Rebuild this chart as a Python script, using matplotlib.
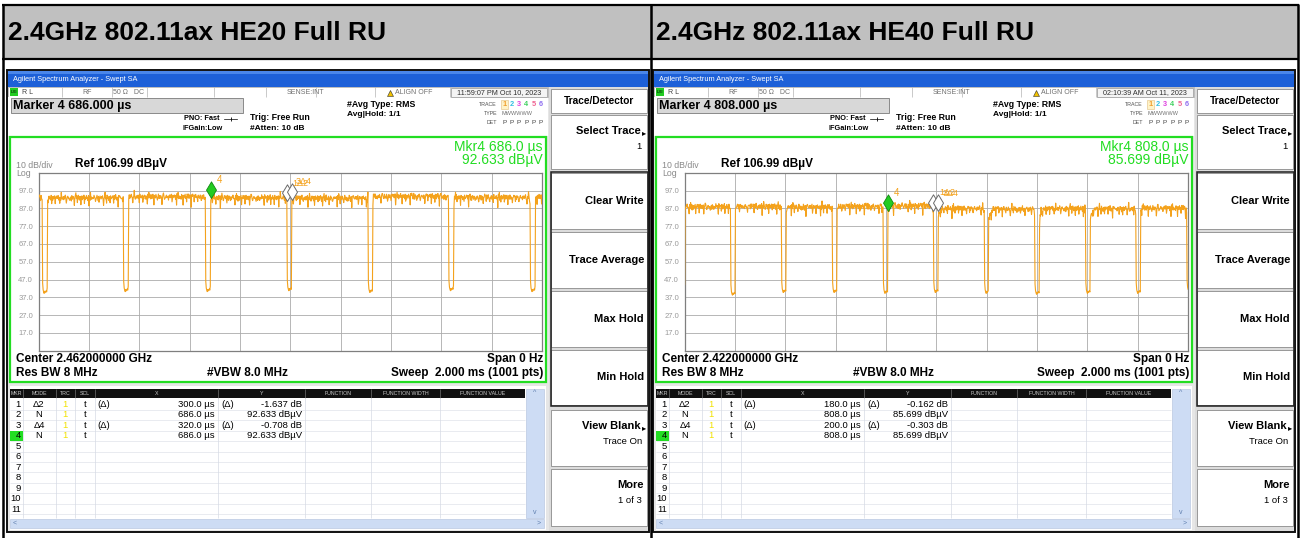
import numpy as np
import matplotlib
matplotlib.use("Agg")
import matplotlib.pyplot as plt
from matplotlib.patches import Rectangle
from matplotlib.path import Path

plt.rcParams['font.family'] = ['Liberation Sans', 'DejaVu Sans']

# ---------------- chart values ----------------
PANEL_TITLES = ["2.4GHz 802.11ax HE20 Full RU", "2.4GHz 802.11ax HE40 Full RU"]
CENTER_FREQS = ["2.462000000 GHz", "2.422000000 GHz"]
TIMESTAMPS = ["11:59:07 PM Oct 10, 2023", "02:10:39 AM Oct 11, 2023"]
REF_LEVEL = 106.99
DB_PER_DIV = 10
N_DIV = 10
SWEEP_US = 2000.0
N_POINTS = 1001
Y_TICK_LABELS = ["97.0", "87.0", "77.0", "67.0", "57.0", "47.0", "37.0", "27.0", "17.0"]

MKR4_TIME = [686.0, 808.0]          # µs
MKR4_LEVEL = [92.633, 85.699]       # dBµV
MKR1_DELTA_TIME = [300.0, 180.0]    # µs relative to marker 2
MKR1_DELTA_LEVEL = [-1.637, -0.162]
MKR3_DELTA_TIME = [320.0, 200.0]    # µs relative to marker 4
MKR3_DELTA_LEVEL = [-0.708, -0.303]

# HE20 trace: burst-off gaps (µs), floor in each gap, burst levels (dBµV)
HE20_GAP_START = [15, 337, 663, 988, 1309, 1630, 1954]
HE20_GAP_END = [35, 357, 683, 1005, 1327, 1650, 1974]
HE20_GAP_FLOOR = [40.0, 41.0, 41.0, 41.5, 40.5, 41.5, 41.0]
HE20_BURST_LEVEL = [93.5, 92.8, 93.4, 92.8, 92.6, 93.6, 93.0, 93.2]
HE20_RAMP_FLAG = [0, 0, 0, 0, 0, 0, 0, 0]

# HE40 trace
HE40_GAP_START = [-20, 183, 385, 587, 789, 990, 1191, 1392, 1593, 1794, 1996]
HE40_GAP_END = [1, 201, 403, 605, 807, 1007, 1208, 1410, 1611, 1812, 2040]
HE40_GAP_FLOOR = [42.0, 39.0, 40.5, 40.5, 40.0, 40.5, 40.0, 39.5, 40.0, 40.0, 41.5]
HE40_BURST_LEVEL = [87.0, 87.8, 88.0, 87.6, 88.0, 88.4, 86.8, 86.4, 86.8, 86.6, 87.0, 87.0]
HE40_RAMP_FLAG = [0, 0, 0, 0, 0, 0, 1, 1, 1, 1, 0, 0]

# hand-read trace texture (dB offsets)
RIPPLE_A = [0.7, -0.3, 1.2, -0.8, 0.4, 1.5, -0.2, -1.3, 0.9, 0.2, -0.6, 1.1, 0.5,
            -1.0, 0.8, -0.1, 1.6, -0.5, 0.3, -0.9, 0.6, 1.0, -0.4, 0.2, -1.1, 1.3,
            0.0, 0.6, -1.4, 0.9, -0.7, 0.5, 1.2, -0.6, 0.3, -0.2, 1.4]
RIPPLE_B = [0.0, 0.3, -0.2, 0.0, -2.6, 0.2, 0.0, -0.3, 0.4, 0.0, 0.1, -0.4, 0.0,
            -4.5, 0.3, 0.0, 2.2, -0.1, 0.0, -1.8, 0.3, 0.0, -0.2, 0.1, 0.0, 0.2,
            -3.2, 0.0, 0.1]
GAP_SHAPE = [5.0, 1.2, 0.0, -0.8, 0.4, -0.4, 0.2, 0.7, 0.0, 2.2]
PRE_DROP = [-1.0, -2.5]
POST_RISE = [-1.5]
RAMP = [-5.0, -4.5, -4.0, -3.0, -2.5, -2.0, -1.5, -1.0, -0.5]

TRACE_COLOR = '#f4a21c'
GREEN = '#22dd22'

W, H = 1300, 538
fig = plt.figure(figsize=(13, 5.38), dpi=100)
bg = fig.add_axes([0, 0, 1, 1])
bg.set_xlim(0, W)
bg.set_ylim(H, 0)
bg.axis('off')


def rect(x0, y0, x1, y1, fc='none', ec='none', lw=0.0, z=1):
    bg.add_patch(Rectangle((x0, y0), x1 - x0, y1 - y0, facecolor=fc,
                           edgecolor=ec, linewidth=lw, zorder=z))


def txt(x, y, s, size=6, color='black', weight='normal', ha='left', va='center', z=5):
    bg.text(x, y, s, fontsize=size, color=color, fontweight=weight,
            ha=ha, va=va, zorder=z)


def hline(x0, x1, y, color, lw=0.7, z=2):
    bg.plot([x0, x1], [y, y], color=color, lw=lw, zorder=z, solid_capstyle='butt')


def vline(x, y0, y1, color, lw=0.7, z=2):
    bg.plot([x, x], [y0, y1], color=color, lw=lw, zorder=z, solid_capstyle='butt')


def build_trace(gap_start, gap_end, gap_floor, burst_level, ramp_flag, phase):
    t = np.linspace(0.0, SWEEP_US, N_POINTS)
    y = np.zeros(N_POINTS)
    gs = np.array(gap_start, float)
    ge = np.array(gap_end, float)
    for k, tk in enumerate(t):
        g = np.where((gs <= tk) & (tk < ge))[0]
        if g.size:
            g = g[0]
            j = min(int((tk - gs[g]) // 2), len(GAP_SHAPE) - 1)
            y[k] = gap_floor[g] + GAP_SHAPE[j]
            continue
        b = int(np.sum(ge <= tk))
        v = (burst_level[b] + RIPPLE_A[(k + phase) % len(RIPPLE_A)]
             + RIPPLE_B[(k + 3 * phase) % len(RIPPLE_B)])
        nxt = gs[gs > tk]
        if nxt.size:
            d = int(round((nxt.min() - tk) / 2))
            if 1 <= d <= len(PRE_DROP):
                v += PRE_DROP[-d]
        if b > 0:
            j = int(round((tk - ge[b - 1]) / 2))
            if ramp_flag[b] and j < len(RAMP):
                v += RAMP[j]
            elif j < len(POST_RISE):
                v += POST_RISE[j]
        y[k] = v
    return t, y


DIAMOND = Path([(0, 0), (0.6, 1), (0, 2), (-0.6, 1), (0, 0)],
               [Path.MOVETO, Path.LINETO, Path.LINETO, Path.LINETO, Path.CLOSEPOLY])

# ---------------- outer table ----------------
rect(3, 5, 1298, 59, fc='#c0c0c0', z=0.5)
for yy in (5, 59):
    hline(2, 1299, yy, 'black', lw=1.6, z=3)
for xx in (3, 651, 1298):
    vline(xx, 4, 538, 'black', lw=1.8, z=3)
txt(8, 33, PANEL_TITLES[0], 19, weight='bold')
txt(656, 33, PANEL_TITLES[1], 19, weight='bold')

SCREEN_X = [7, 653]
traces = [
    build_trace(HE20_GAP_START, HE20_GAP_END, HE20_GAP_FLOOR, HE20_BURST_LEVEL, HE20_RAMP_FLAG, 0),
    build_trace(HE40_GAP_START, HE40_GAP_END, HE40_GAP_FLOOR, HE40_BURST_LEVEL, HE40_RAMP_FLAG, 11),
]

for i, sx in enumerate(SCREEN_X):
    sx1 = sx + 642
    # screen frame
    rect(sx, 70, sx1, 532, fc='#e6e6e6', ec='#101010', lw=1.4, z=1)
    # title bar
    rect(sx + 1, 71, sx1 - 1, 87, fc='#1d60d8', z=1.5)
    rect(sx + 1, 71, sx1 - 1, 74, fc='#4a86ea', z=1.6)
    txt(sx + 6, 79.5, 'Agilent Spectrum Analyzer - Swept SA', 5.3, color='white')
    # status row
    rect(sx + 1, 87, sx + 541, 97, fc='white', ec='#a8a8a8', lw=0.5, z=1.5)
    rect(sx + 3, 88.3, sx + 11, 95.7, fc='#22cc22', z=2)
    txt(sx + 7, 92.2, 'LXI', 3.2, ha='center')
    txt(sx + 15, 92.2, 'R L', 5, color='#404040')
    for xs in (55, 105, 140, 207, 259, 309, 368, 443):
        vline(sx + xs, 87, 97, '#b4b4b4', lw=0.5)
    txt(sx + 80, 92.2, 'RF', 5, color='#707070', ha='center')
    txt(sx + 106, 92.2, '50 Ω   DC', 5, color='#707070')
    txt(sx + 280, 92.2, 'SENSE:INT', 5, color='#707070')
    bg.plot([sx + 383], [92.5], marker='^', ms=5, mfc='#f2c200', mec='#303030', mew=0.4, zorder=4)
    txt(sx + 388, 92.2, 'ALIGN OFF', 5, color='#707070')
    rect(sx + 444, 88, sx + 540, 96.5, fc='#f4f4f4', ec='#909090', lw=0.5, z=1.8)
    txt(sx + 492, 92.2, TIMESTAMPS[i], 5.2, color='#303030', ha='center')
    # info area
    rect(sx + 1, 97, sx + 541, 136, fc='white', z=1.5)
    rect(sx + 4, 98, sx + 236, 113, fc='#d8d8d8', ec='#7a7a7a', lw=0.6, z=1.8)
    txt(sx + 6, 106, f"Marker 4 {MKR4_TIME[i]:.3f} µs", 9, weight='bold')
    txt(sx + 213, 118.5, 'PNO: Fast', 5.3, weight='bold', ha='right')
    bg.plot([sx + 217, sx + 230], [118.5, 118.5], color='black', lw=0.5, zorder=4)
    bg.plot([sx + 223.5], [118.5], marker='|', ms=3, color='black', mew=0.6, zorder=4)
    txt(sx + 216, 128.5, 'IFGain:Low', 5.3, weight='bold', ha='right')
    txt(sx + 243, 117.5, 'Trig: Free Run', 6.3, weight='bold')
    txt(sx + 243, 128.5, '#Atten: 10 dB', 6.0, weight='bold')
    txt(sx + 340, 104.5, '#Avg Type: RMS', 6.3, weight='bold')
    txt(sx + 340, 114.5, 'Avg|Hold: 1/1', 6.0, weight='bold')
    txt(sx + 490, 104, 'TRACE', 3.8, color='#505050', ha='right')
    txt(sx + 490, 113.5, 'TYPE', 3.8, color='#505050', ha='right')
    txt(sx + 490, 123, 'DET', 3.8, color='#505050', ha='right')
    rect(sx + 494, 99.5, sx + 500.5, 108.5, fc='#fff3c8', ec='#e0c080', lw=0.4, z=1.9)
    for k, c in enumerate(['#f0a030', '#30c0e0', '#e040e0', '#40d060', '#f06090', '#9070f0']):
        txt(sx + 497.3 + 7.3 * k, 104, str(k + 1), 5.3, color=c, weight='bold', ha='center')
        txt(sx + 497.3 + 7.3 * k, 123, 'P', 4.6, color='#404040', ha='center')
    txt(sx + 494, 113.5, 'MWWWWW', 4.0, color='#707070')

    # green measurement frame
    rect(sx + 3, 137, sx + 539, 382, fc='white', ec=GREEN, lw=1.6, z=1.5)
    txt(sx + 536, 147, f"Mkr4 {MKR4_TIME[i]:.1f} µs", 10, color=GREEN, ha='right')
    txt(sx + 536, 160, f"{MKR4_LEVEL[i]:.3f} dBµV", 10, color=GREEN, ha='right')
    txt(sx + 9, 165, f"{DB_PER_DIV} dB/div", 6.3, color='#8a8a8a')
    txt(sx + 68, 164.5, f"Ref {REF_LEVEL:.2f} dBµV", 8.5, weight='bold')
    txt(sx + 9, 173.5, 'Log', 6.3, color='#8a8a8a')
    txt(sx + 9, 359, f"Center {CENTER_FREQS[i]}", 8.5, weight='bold')
    txt(sx + 536, 359, 'Span 0 Hz', 8.5, weight='bold', ha='right')
    txt(sx + 9, 373, 'Res BW 8 MHz', 8.5, weight='bold')
    txt(sx + 200, 373, '#VBW 8.0 MHz', 8.5, weight='bold')
    txt(sx + 536, 373, 'Sweep  2.000 ms (1001 pts)', 8.5, weight='bold', ha='right')

    # trace plot
    gx0, gx1, gy0, gy1 = sx + 31.6, sx + 535.1, 172.7, 350.7
    ax = fig.add_axes([gx0 / W, 1 - gy1 / H, (gx1 - gx0) / W, (gy1 - gy0) / H])
    ax.set_xlim(0, SWEEP_US)
    ax.set_ylim(REF_LEVEL - N_DIV * DB_PER_DIV, REF_LEVEL)
    ax.set_facecolor('white')
    ax.set_xticks(np.linspace(0, SWEEP_US, N_DIV + 1)[1:-1])
    ax.set_xticklabels([])
    ax.set_yticks([REF_LEVEL - DB_PER_DIV * (k + 1) for k in range(len(Y_TICK_LABELS))])
    ax.set_yticklabels(Y_TICK_LABELS)
    ax.tick_params(length=0, pad=4, labelsize=5.5, labelcolor='#9a9a9a')
    ax.grid(True, color='#ababab', lw=0.6)
    ax.set_axisbelow(True)
    for s in ax.spines.values():
        s.set_color('#7f7f7f')
        s.set_linewidth(0.9)
    t, y = traces[i]
    ax.plot(t, y, color=TRACE_COLOR, lw=0.8, zorder=3)
    m1t = MKR4_TIME[i] + MKR1_DELTA_TIME[i]
    m1l = MKR4_LEVEL[i] + MKR1_DELTA_LEVEL[i]
    m3t = MKR4_TIME[i] + MKR3_DELTA_TIME[i]
    m3l = MKR4_LEVEL[i] + MKR3_DELTA_LEVEL[i]
    for mt, ml in ((m1t, m1l), (m3t, m3l)):
        ax.plot([mt], [ml], marker=DIAMOND, ms=24, mfc='white', mec='#6a6a6a',
                mew=0.7, ls='none', zorder=5, clip_on=False)
    ax.plot([MKR4_TIME[i]], [MKR4_LEVEL[i]], marker=DIAMOND, ms=24, mfc='#22cc22',
            mec='#118811', mew=0.6, ls='none', zorder=6, clip_on=False)
    ax.annotate('4', (MKR4_TIME[i], MKR4_LEVEL[i]), xytext=(4, 13), textcoords='offset points',
                fontsize=7, color=TRACE_COLOR, va='center', zorder=7)
    ax.annotate('1Δ2', (m1t, m1l), xytext=(4, 13), textcoords='offset points',
                fontsize=6.5, color=TRACE_COLOR, va='center', zorder=7)
    ax.annotate('3Δ4', (m3t, m3l), xytext=(3, 13), textcoords='offset points',
                fontsize=6.5, color=TRACE_COLOR, va='center', zorder=7)

    # marker table
    rect(sx + 3, 386, sx + 539, 530, fc='white', z=1.5)
    rect(sx + 3, 389, sx + 518, 397.5, fc='#101010', z=1.8)
    cols = [16, 49, 68, 88, 211, 298, 364, 433, 518]
    for cx in cols[:-1]:
        vline(sx + cx, 389, 397.5, '#707070', lw=0.5, z=2.1)
        vline(sx + cx, 398, 518, '#d6dae4', lw=0.5, z=2.1)
    for lab, cx in zip(['MKR', 'MODE', 'TRC', 'SCL', 'X', 'Y', 'FUNCTION', 'FUNCTION WIDTH', 'FUNCTION VALUE'],
                       [9.5, 32.5, 58.5, 78, 149.5, 254.5, 331, 398.5, 475.5]):
        txt(sx + cx, 393.3, lab, 3.8, color='#c8c8c8', ha='center')
    rows = [
        ('Δ2', '(Δ)', f"{MKR1_DELTA_TIME[i]:.1f} µs", '(Δ)', f"{MKR1_DELTA_LEVEL[i]:.3f} dB"),
        ('N', '', f"{MKR4_TIME[i]:.1f} µs", '', f"{MKR4_LEVEL[i]:.3f} dBµV"),
        ('Δ4', '(Δ)', f"{MKR3_DELTA_TIME[i]:.1f} µs", '(Δ)', f"{MKR3_DELTA_LEVEL[i]:.3f} dB"),
        ('N', '', f"{MKR4_TIME[i]:.1f} µs", '', f"{MKR4_LEVEL[i]:.3f} dBµV"),
    ]
    for k in range(11):
        ry = 404.5 + 10.45 * k
        hline(sx + 3, sx + 518, ry + 5.2, '#e0e3ea', lw=0.5, z=2.05)
        if k == 3:
            rect(sx + 3, ry - 5, sx + 16, ry + 5, fc=GREEN, z=2.2)
        txt(sx + 14, ry, str(k + 1), 6.8, ha='right', z=3)
        if k < len(rows):
            mode, dx, xv, dy, yv = rows[k]
            txt(sx + 32, ry, mode, 6.8, ha='center')
            txt(sx + 58, ry, '1', 6.8, color='#f2e200', ha='center')
            txt(sx + 78, ry, 't', 6.8, ha='center')
            txt(sx + 90, ry, dx, 6.8)
            txt(sx + 208, ry, xv, 6.8, ha='right')
            txt(sx + 214, ry, dy, 6.8)
            txt(sx + 295, ry, yv, 6.8, ha='right')
    rect(sx + 519, 389, sx + 537, 518, fc='#cddcf4', ec='#b0c0dc', lw=0.4, z=2.3)
    txt(sx + 528, 393, '^', 5, color='#6080b0', ha='center', z=3)
    txt(sx + 528, 513, 'v', 5, color='#6080b0', ha='center', z=3)
    rect(sx + 3, 519, sx + 537, 528, fc='#cddcf4', ec='#b0c0dc', lw=0.4, z=2.3)
    txt(sx + 8, 523.5, '<', 5, color='#6080b0', ha='center', z=3)
    txt(sx + 532, 523.5, '>', 5, color='#6080b0', ha='center', z=3)

    # soft-key panel
    rect(sx + 542, 87, sx1 - 1, 531, fc='#dcdcdc', z=1.5)
    bx0, bx1 = sx + 544, sx1 - 2
    rect(bx0, 88.5, bx1, 113, fc='white', ec='#8a8a8a', lw=0.6, z=1.8)
    txt((bx0 + bx1) / 2, 101, 'Trace/Detector', 7.3, ha='center', weight='bold')
    buttons = [(115, 169, 'Select Trace', '1', True),
               (173, 229, 'Clear Write', '', False),
               (232, 288, 'Trace Average', '', False),
               (291, 347, 'Max Hold', '', False),
               (350, 405, 'Min Hold', '', False),
               (410, 466, 'View Blank', 'Trace On', True),
               (469, 526, 'More', '1 of 3', False)]
    for y0, y1, lab, sub, arrow in buttons:
        rect(bx0, y0, bx1, y1, fc='white', ec='#8a8a8a', lw=0.6, z=1.8)
        ly = y0 + 16 if sub else (y0 + y1) / 2
        txt(bx1 - 6 if arrow else bx1 - 3, ly, lab, 8, weight='bold', ha='right')
        if arrow:
            txt(bx1 - 1, ly + 3, '▸', 6, ha='right')
        if sub:
            txt(bx1 - 5, ly + 15.5, sub, 6.8, ha='right')
    rect(bx0 - 0.5, 172, bx1 + 0.5, 406, ec='#202020', lw=1.1, z=2.5)

fig.savefig('out.png', dpi=100)
